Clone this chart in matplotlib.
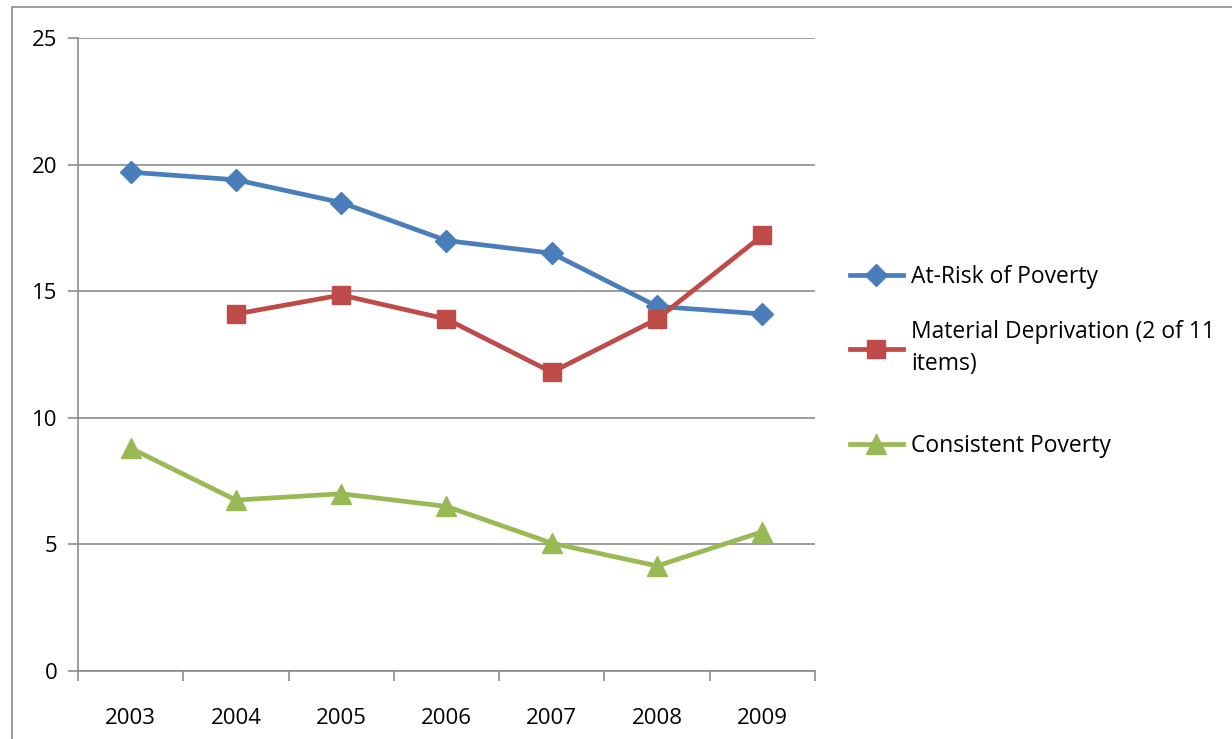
import matplotlib.pyplot as plt
from matplotlib.patches import Rectangle

years = ['2003', '2004', '2005', '2006', '2007', '2008', '2009']
at_risk = [19.7, 19.4, 18.5, 17.0, 16.5, 14.4, 14.1]
material = [None, 14.1, 14.85, 13.9, 11.8, 13.9, 17.2]
consistent = [8.8, 6.75, 7.0, 6.5, 5.05, 4.15, 5.5]

plt.rcParams['font.family'] = ['Open Sans', 'DejaVu Sans']

fig = plt.figure(figsize=(12.32, 7.39), dpi=100)
fig.patches.append(Rectangle((12 / 1232, -0.05), 1.1, 1.0 - 7 / 739 + 0.05,
                             transform=fig.transFigure, fill=False,
                             edgecolor='#8c8c8c', linewidth=1.2))

ax = fig.add_axes([78 / 1232, 68 / 739, 737 / 1232, 633 / 739])
x = list(range(len(years)))

def pts(vals):
    xs = [i for i, v in zip(x, vals) if v is not None]
    ys = [v for v in vals if v is not None]
    return xs, ys

l1, = ax.plot(*pts(at_risk), color='#4A7EBB', lw=3.4, marker='D', ms=11,
              label='At-Risk of Poverty')
l2, = ax.plot(*pts(material), color='#BE4B48', lw=3.4, marker='s', ms=13,
              label='Material Deprivation (2 of 11\nitems)')
l3, = ax.plot(*pts(consistent), color='#98B954', lw=3.4, marker='^', ms=14,
              label='Consistent Poverty')

ax.set_xlim(-0.5, len(years) - 0.5)
ax.set_ylim(0, 25)
ax.set_yticks([0, 5, 10, 15, 20, 25])
ax.yaxis.grid(True, color='#8c8c8c', lw=1.2)
ax.set_axisbelow(True)

ax.set_xticks([i - 0.5 for i in range(len(years) + 1)])
ax.set_xticklabels([])
ax.set_xticks(x, minor=True)
ax.set_xticklabels(years, minor=True)
ax.tick_params(axis='x', which='major', length=7, color='#8c8c8c', width=1.2)
ax.tick_params(axis='x', which='minor', length=0, pad=27, labelsize=16)
ax.tick_params(axis='y', length=7, color='#8c8c8c', width=1.2, labelsize=16, pad=8)

for s in ['top', 'right']:
    ax.spines[s].set_visible(False)
for s in ['left', 'bottom']:
    ax.spines[s].set_color('#8c8c8c')
    ax.spines[s].set_linewidth(1.2)

leg_kw = dict(loc='upper left', bbox_transform=fig.transFigure, frameon=False,
              fontsize=16.5, handlelength=2.3, handletextpad=0.38,
              borderaxespad=0, borderpad=0)
leg1 = ax.legend(handles=[l1, l2], bbox_to_anchor=(850 / 1232, 1 - 265 / 739),
                 labelspacing=1.35, **leg_kw)
leg1.get_texts()[1].set_linespacing(1.45)
ax.add_artist(leg1)
ax.legend(handles=[l3], bbox_to_anchor=(850 / 1232, 1 - 434 / 739), **leg_kw)

fig.savefig('out.png', dpi=100)
